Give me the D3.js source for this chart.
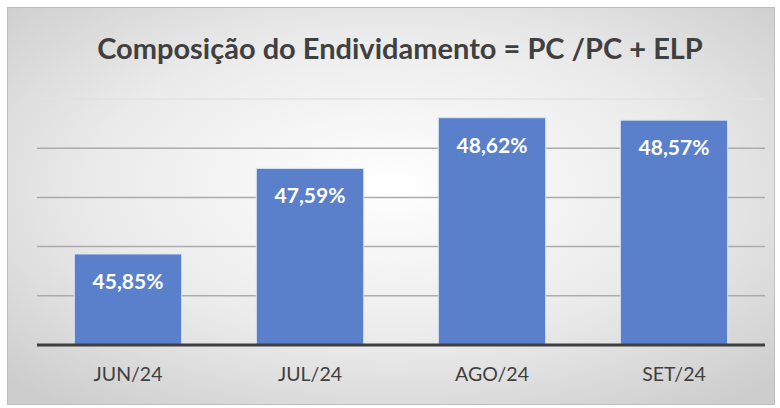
<!DOCTYPE html>
<html>
<head>
<meta charset="utf-8">
<script src="https://cdn.jsdelivr.net/npm/d3@7"></script>
<style>
  html, body { margin: 0; padding: 0; background: #ffffff; }
  svg { display: block; }
</style>
</head>
<body>
<svg id="chart" width="780" height="408"></svg>
<script>
// Debt composition ratio per month
const categories = ["JUN/24", "JUL/24", "AGO/24", "SET/24"];
const values = [45.85, 47.59, 48.62, 48.57];
const yTicks = [44, 45, 46, 47, 48, 49];
const title = "Composição do Endividamento = PC /PC + ELP";

const svg = d3.select("#chart");
const W = 780, H = 408;
const font = "Lato, 'Open Sans', sans-serif";

const defs = svg.append("defs");
const grad = defs.append("radialGradient")
  .attr("id", "bg").attr("cx", "50%").attr("cy", "45%").attr("r", "70%");
grad.append("stop").attr("offset", "0%").attr("stop-color", "#ffffff");
grad.append("stop").attr("offset", "55%").attr("stop-color", "#ebebeb");
grad.append("stop").attr("offset", "100%").attr("stop-color", "#cdcdcd");

// panel
svg.append("rect")
  .attr("x", 7.5).attr("y", 7.5).attr("width", 767).attr("height", 397)
  .attr("fill", "url(#bg)").attr("stroke", "#bdbdbd").attr("stroke-width", 1);

const plot = { left: 37, right: 765, top: 99, bottom: 345 };

const x = d3.scaleBand()
  .domain(categories)
  .range([plot.left, plot.right])
  .paddingInner(0.41).paddingOuter(0.205);

const y = d3.scaleLinear()
  .domain([44, 49])
  .range([plot.bottom, plot.top]);

// gridlines
svg.append("g")
  .selectAll("line")
  .data(yTicks.slice(1))
  .join("line")
  .attr("x1", plot.left).attr("x2", plot.right)
  .attr("y1", d => y(d)).attr("y2", d => y(d))
  .attr("stroke", d => d === 49 ? "#e2e2e2" : "#ababab")
  .attr("stroke-width", 1.5);

// bars
svg.append("g")
  .selectAll("rect")
  .data(values)
  .join("rect")
  .attr("x", (d, i) => x(categories[i]))
  .attr("width", x.bandwidth())
  .attr("y", d => y(d))
  .attr("height", d => y(44) - y(d))
  .attr("fill", "#5a80cb")
  .attr("stroke", "#dbe4f5").attr("stroke-width", 1);

// value labels inside bars
svg.append("g")
  .selectAll("text")
  .data(values)
  .join("text")
  .attr("x", (d, i) => x(categories[i]) + x.bandwidth() / 2)
  .attr("y", d => y(d) + 35)
  .attr("text-anchor", "middle")
  .attr("font-family", font)
  .attr("font-weight", "bold")
  .attr("font-size", 21)
  .attr("fill", "#ffffff")
  .text(d => d.toFixed(2).replace(".", ",") + "%");

// x axis
const xAxis = svg.append("g")
  .attr("transform", `translate(0,${plot.bottom})`)
  .call(d3.axisBottom(x).tickSize(0).tickPadding(22));
xAxis.select(".domain")
  .attr("d", `M${plot.left},0H${plot.right}`)
  .attr("stroke", "#3f3f3f").attr("stroke-width", 3);
xAxis.selectAll("text")
  .attr("font-family", font)
  .attr("font-size", 19.5)
  .attr("fill", "#404040");

// title
svg.append("text")
  .attr("x", 400).attr("y", 59)
  .attr("text-anchor", "middle")
  .attr("font-family", font)
  .attr("font-weight", "bold")
  .attr("font-size", 29)
  .attr("fill", "#404040")
  .text(title);
</script>
</body>
</html>
